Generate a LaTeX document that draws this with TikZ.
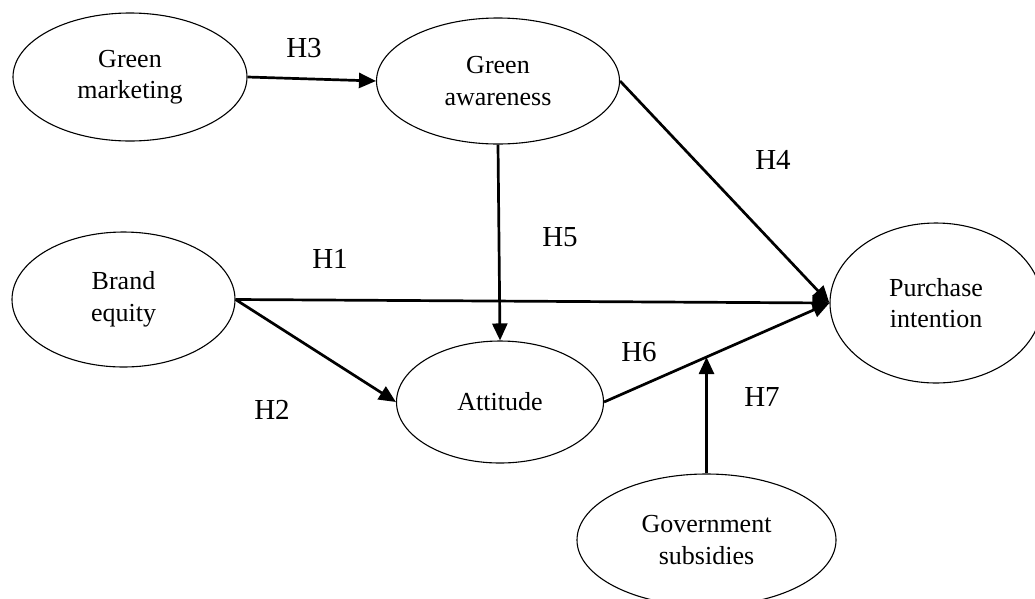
\documentclass[tikz,border=0pt]{standalone}
\usepackage{fontspec}
\setmainfont{Liberation Serif}
\usetikzlibrary{shapes.geometric,arrows.meta,calc}
\begin{document}
\begin{tikzpicture}[x=1pt,y=-1pt,
  construct/.style={ellipse,draw,line width=1.1pt,inner sep=0pt,align=center,
    font=\fontsize{26}{31.5}\selectfont},
  link/.style={line width=2.7pt,-{Triangle[length=17pt,width=15pt]}},
  hlabel/.style={font=\fontsize{29}{34}\selectfont}]
\useasboundingbox (0,0) rectangle (1035,598);
\node[construct,minimum width=234pt,minimum height=128pt] (gm) at (130,77) {Green\\marketing};
\node[construct,minimum width=243pt,minimum height=126pt] (ga) at (498,81) {Green\\awareness};
\node[construct,minimum width=223pt,minimum height=135pt] (be) at (123.5,299.5) {Brand\\equity};
\node[construct,minimum width=207pt,minimum height=122pt] (att) at (500,402) {Attitude};
\node[construct,minimum width=212pt,minimum height=160pt] (pi) at (936,303) {Purchase\\intention};
\node[construct,minimum width=259pt,minimum height=132pt] (gov) at (706.5,540) {Government\\subsidies};

\draw[link] (gm.east) -- (ga.west);
\draw[link] (ga.south) -- (att.north);
\draw[link] (ga.east) -- (pi.west);
\draw[link] (be.east) -- (pi.west);
\draw[link] (be.east) -- (att.west);
\draw[link] (att.east) -- (pi.west);
\path (att.east) -- (pi.west) coordinate[pos=0.454] (h7tip);
\draw[link] (gov.north) -- (gov.north |- h7tip);

\node[hlabel] (l3) at (304,48) {H3};
\node[hlabel] (l5) at (560,237) {H5};
\node[hlabel] (l4) at (773,160) {H4};
\node[hlabel] (l1) at (330,259) {H1};
\node[hlabel] (l2) at (272,410) {H2};
\node[hlabel] (l6) at (639,352) {H6};
\node[hlabel] (l7) at (762,397) {H7};
\end{tikzpicture}
\end{document}
